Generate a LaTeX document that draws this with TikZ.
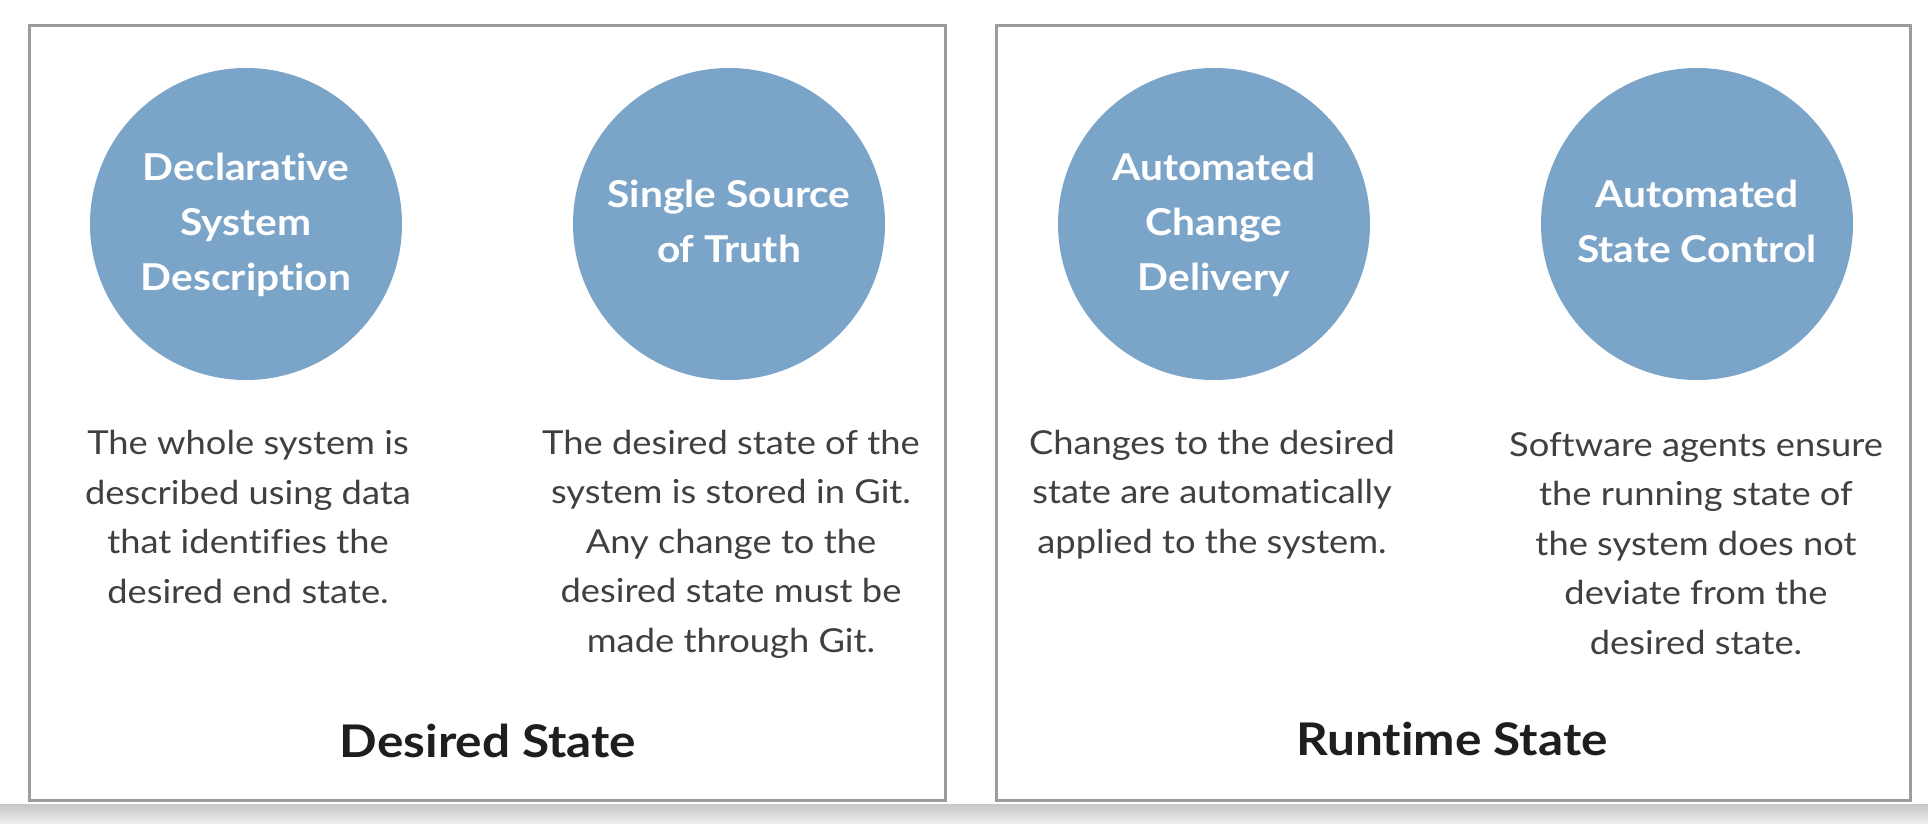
\documentclass[tikz,border=0pt]{standalone}
\usepackage{fontspec}
\setmainfont{Lato}[Ligatures=NoCommon,FakeStretch=1.1]
\definecolor{circblue}{HTML}{7BA4C9}
\definecolor{bodygray}{HTML}{404040}
\definecolor{titlegray}{HTML}{1E1E1E}
\definecolor{framegray}{HTML}{9C9C9C}
\begin{document}
\begin{tikzpicture}[x=1pt,y=-1pt,
  panel/.style={draw=framegray,line width=3pt,minimum height=774pt,inner sep=0pt},
  bubble/.style={circle,fill=circblue,minimum size=312pt,inner sep=0pt},
  bubbletext/.style={text=white,align=center,inner sep=0pt,
    font=\fontsize{37}{55}\selectfont\bfseries},
  bodytext/.style={anchor=base,align=center,text=bodygray,inner sep=0pt,
    font=\fontsize{33}{49.5}\selectfont},
  paneltitle/.style={anchor=base,inner sep=0pt,text=titlegray,font=\fontsize{45}{54}\selectfont\bfseries}]
\useasboundingbox (0,0) rectangle (1928,824);
\fill[white] (0,0) rectangle (1928,824);
\shade[top color=black!22,bottom color=black!6] (0,804) rectangle (1928,824);

\node[panel,minimum width=916pt] (leftpanel) at (487.5,413) {};
\node[panel,minimum width=914pt] (rightpanel) at (1453,413) {};

\node[bubble] (c1) at (246,224) {};
\node[bubble] (c2) at (729,224) {};
\node[bubble] (c3) at (1214,224) {};
\node[bubble] (c4) at (1697,224) {};
\node[bubbletext] (c1text) at ([yshift=-1pt]c1.center) {Declarative\\System\\Description};
\node[bubbletext] (c2text) at ([yshift=2.5pt]c2.center) {Single Source\\of Truth};
\node[bubbletext] (c3text) at ([yshift=-1pt]c3.center) {Automated\\Change\\Delivery};
\node[bubbletext] (c4text) at ([yshift=2.5pt]c4.center) {Automated\\State Control};

\node[bodytext] (t1) at (248,603) {The whole system is\\described using data\\that identifies the\\desired end state.};
\node[bodytext] (t2) at (731,652) {The desired state of the\\system is stored in Git.\\Any change to the\\desired state must be\\made through Git.};
\node[bodytext] (t3) at (1212,553) {Changes to the desired\\state are automatically\\applied to the system.};
\node[bodytext] (t4) at (1696,654) {Software agents ensure\\the running state of\\the system does not\\deviate from the\\desired state.};

\node[paneltitle] (h1) at (488,757) {Desired State};
\node[paneltitle] (h2) at (1452,755) {Runtime State};
\end{tikzpicture}
\end{document}
